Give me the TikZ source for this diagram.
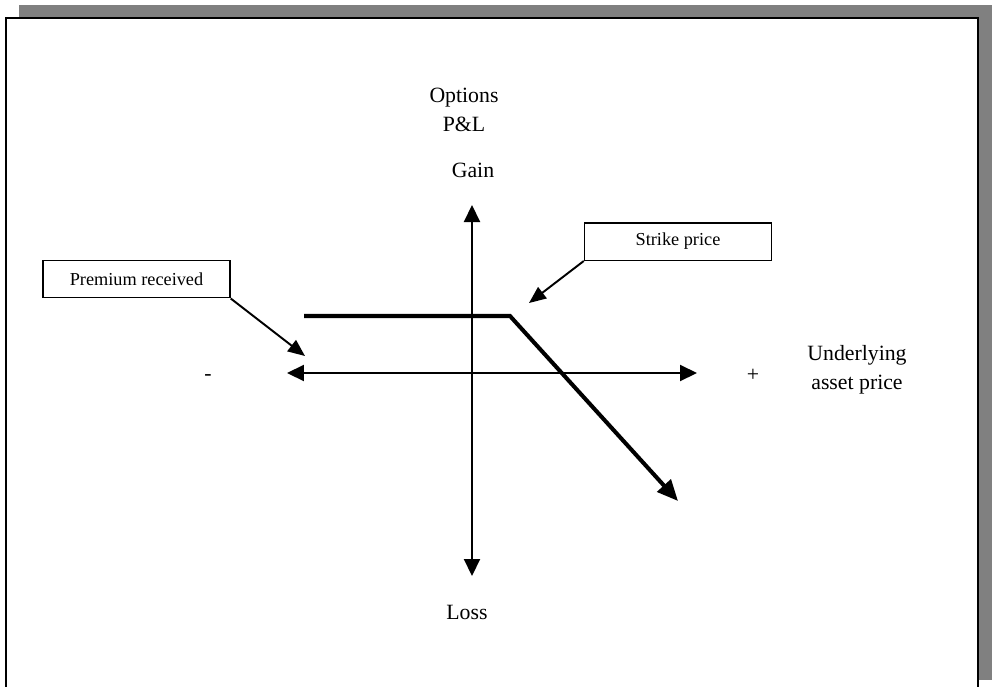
\documentclass[tikz,border=0pt]{standalone}
\usepackage{fontspec}
\setmainfont{Liberation Serif}
\usepackage{tikz}
\usetikzlibrary{arrows.meta, positioning, calc}

\tikzset{
    axis/.style={line width=1.2pt, {Triangle[length=0.34cm, width=0.32cm]}-{Triangle[length=0.34cm, width=0.32cm]}},
    payoff/.style={line width=2.3pt, -{Triangle[length=0.42cm, width=0.36cm]}},
    pointer/.style={line width=1.1pt, -{Triangle[length=0.34cm, width=0.28cm]}},
    callout/.style={draw, line width=0.85pt, fill=white, minimum width=3.74cm, minimum height=0.75cm, inner sep=0pt, font=\fontsize{10.4}{12}\selectfont},
    label/.style={font=\fontsize{12.4}{16.5}\selectfont, align=center, inner sep=0pt}
}

\begin{document}
\begin{tikzpicture}[x=0.02cm, y=-0.02cm]
    \useasboundingbox (0,0) rectangle (992,687);

    % Frame with shadow
    \fill[gray] (19,5) rectangle (992,680);
    \draw[line width=1.7pt, fill=white] (6,18) rectangle (978,700);

    % Axes
    \coordinate (xl) at (287,373);
    \coordinate (xr) at (697,373);
    \coordinate (yt) at (472,205);
    \coordinate (yb) at (472,576);
    \draw[axis] (xl) -- (xr);
    \draw[axis] (yb) -- (yt);

    % Axis labels
    \node[label] (pl) at (464,110) {Options\\P\&L};
    \node[label] (gain) at (473,170) {Gain};
    \node[label] (loss) at (467,612) {Loss};
    \node[label] (minus) at (208,378) {-};
    \node[label] (plus) at (753,375) {+};
    \node[label] (under) at (857,370) {Underlying\\asset price};

    % Short call payoff
    \coordinate (p0) at (304,316);
    \coordinate (strike) at (510,316);
    \coordinate (pend) at (678,501);
    \draw[payoff] (p0) -- (strike) -- (pend);

    % Premium received
    \node[callout] (prem) at (136.5,279) {Premium received};
    \coordinate (premtip) at (305,356);
    \draw[pointer] (prem.south east) -- (premtip);

    % Strike price
    \node[callout] (strk) at (678,241.5) {Strike price};
    \coordinate (strktip) at (529,303);
    \draw[pointer] (strk.south west) -- (strktip);
\end{tikzpicture}
\end{document}
